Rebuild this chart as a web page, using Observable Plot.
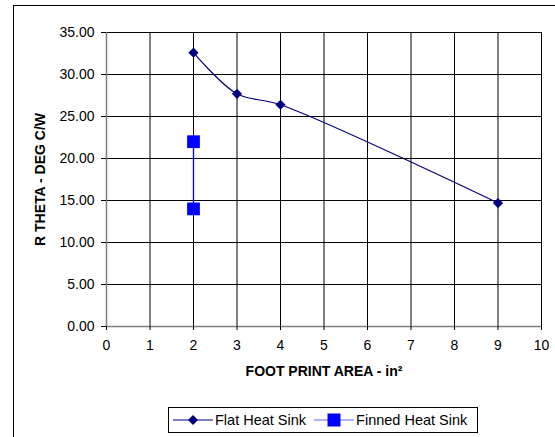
<!DOCTYPE html>
<html>
<head>
<meta charset="utf-8">
<script src="https://cdn.jsdelivr.net/npm/d3@7"></script>
<script src="https://cdn.jsdelivr.net/npm/@observablehq/plot@0.6"></script>
<style>
  html, body { margin: 0; padding: 0; background: #fff; }
  #wrap { position: relative; width: 555px; height: 437px; overflow: hidden; font-family: "Liberation Sans", Arial, sans-serif; }
  #border { position: absolute; left: 13px; top: 5px; width: 600px; height: 500px; border: 1px solid #000; box-sizing: border-box; }
  #chart { position: absolute; left: 0; top: 0; }
  #legend { position: absolute; left: 168px; top: 407px; width: 310px; height: 26px; border: 1px solid #000; box-sizing: border-box; background: #fff; display: flex; align-items: center; font-size: 14.5px; color: #000; }
  #legend .item { display: flex; align-items: center; margin-left: 4px; }
  #legend .item + .item { margin-left: 8px; }
  #legend svg { display: block; margin-right: 2px; }
</style>
</head>
<body>
<div id="wrap">
  <div id="border"></div>
  <div id="chart"></div>
  <div id="legend"></div>
</div>
<script>
// Data
const flatX = [2, 3, 4, 9];
const flatY = [32.6, 27.7, 26.4, 14.7];
const finnedX = [2, 2];
const finnedY = [22.0, 14.0];
const xTicks = [0, 1, 2, 3, 4, 5, 6, 7, 8, 9, 10];
const yTicks = [0, 5, 10, 15, 20, 25, 30, 35];
const seriesNames = ["Flat Heat Sink", "Finned Heat Sink"];
const xTitle = "FOOT PRINT AREA - in²";
const yTitle = "R THETA - DEG C/W";

const flat = flatX.map((x, i) => ({x, y: flatY[i]}));
const finned = finnedX.map((x, i) => ({x, y: finnedY[i]}));

const flatColor = "#000080";
const finnedColor = "#0000ff";

const chart = Plot.plot({
  width: 555,
  height: 395,
  marginLeft: 106,
  marginRight: 14,
  marginTop: 32,
  marginBottom: 69,
  style: {fontFamily: "'Liberation Sans', Arial, sans-serif", fontSize: "14px", color: "#000", background: "transparent"},
  x: {domain: [0, 10], ticks: xTicks},
  y: {domain: [0, 35], ticks: yTicks},
  marks: [
    Plot.gridX(xTicks.slice(1), {stroke: "#000", strokeOpacity: 1, strokeWidth: 1}),
    Plot.gridY(yTicks.slice(1), {stroke: "#000", strokeOpacity: 1, strokeWidth: 1}),
    Plot.frame({stroke: "#000", strokeWidth: 1}),
    Plot.ruleX([0], {stroke: "#808080", strokeWidth: 1.5}),
    Plot.ruleY([0], {stroke: "#808080", strokeWidth: 1.5}),
    Plot.axisX({ticks: xTicks, tickSize: 4, tickPadding: 10, label: null, fontSize: 14}),
    Plot.axisY({ticks: yTicks, tickSize: 5, tickPadding: 7, tickFormat: d => d.toFixed(2), label: null, fontSize: 14}),
    Plot.line(finned, {x: "x", y: "y", stroke: finnedColor, strokeWidth: 1.3}),
    Plot.line(flat, {x: "x", y: "y", stroke: flatColor, strokeWidth: 1.2, curve: "catmull-rom"}),
    Plot.dot(flat, {x: "x", y: "y", symbol: "diamond2", r: 4.6, fill: flatColor, stroke: "none"}),
    Plot.dot(finned, {x: "x", y: "y", symbol: "square", r: 7.2, fill: finnedColor, stroke: "none"}),
    Plot.text([xTitle], {frameAnchor: "bottom", dy: 49, text: d => d, fontWeight: "bold", fontSize: 14, fill: "#000", textAnchor: "middle"}),
    Plot.text([yTitle], {frameAnchor: "left", dx: -66, rotate: -90, text: d => d, fontWeight: "bold", fontSize: 14, fill: "#000", textAnchor: "middle"})
  ]
});
document.getElementById("chart").appendChild(chart);

// Legend
const legend = document.getElementById("legend");
const swatches = [
  `<svg width="40" height="16"><line x1="0" y1="8" x2="40" y2="8" stroke="${flatColor}" stroke-width="1.2"/><path d="M20,3 L25,8 L20,13 L15,8 Z" fill="${flatColor}"/></svg>`,
  `<svg width="40" height="16"><line x1="0" y1="8" x2="40" y2="8" stroke="#6666ff" stroke-width="1.2"/><rect x="13.5" y="1.5" width="13" height="13" fill="${finnedColor}"/></svg>`
];
seriesNames.forEach((name, i) => {
  const item = document.createElement("div");
  item.className = "item";
  item.innerHTML = swatches[i] + `<span>${name}</span>`;
  legend.appendChild(item);
});
</script>
</body>
</html>
